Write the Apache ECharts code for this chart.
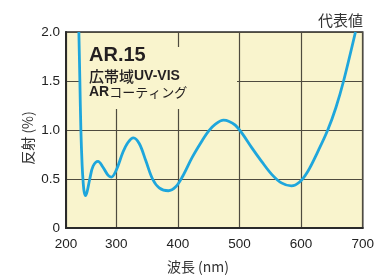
<!DOCTYPE html>
<html>
<head>
<meta charset="utf-8">
<script src="https://cdn.jsdelivr.net/npm/echarts@6/dist/echarts.min.js"></script>
<style>
html,body{margin:0;padding:0;background:#fff;}
#c{width:377px;height:278px;}
</style>
</head>
<body>
<div id="c"></div>
<script>
// Wavelength (nm) and reflectance (%)
const wavelengths = [225.6, 227.6, 229.6, 232.1, 234.1, 236.1, 238.9, 242.0, 247.3, 253.8, 263.7, 273.6, 283.4, 290.1, 300.0,
  310.6, 318.7, 327.8, 337.5, 348.3, 358.9, 369.7, 384.6, 396.5, 407.1, 423.2, 439.3, 450.1, 460.9, 474.2, 482.3, 493.1,
  503.7, 519.8, 535.8, 551.9, 568.0, 584.1, 597.6, 611.0, 627.1, 643.2, 656.5, 668.9, 688.2];
const reflectance = [2.00, 1.50, 1.00, 0.64, 0.47, 0.37, 0.33, 0.37, 0.50, 0.63, 0.68, 0.62, 0.54, 0.52, 0.59,
  0.77, 0.87, 0.92, 0.86, 0.68, 0.50, 0.41, 0.38, 0.42, 0.52, 0.72, 0.89, 0.99, 1.06, 1.10, 1.09, 1.05,
  0.97, 0.82, 0.68, 0.55, 0.46, 0.43, 0.47, 0.58, 0.78, 1.00, 1.23, 1.50, 2.00];
const xTickLabels = [200, 300, 400, 500, 600, 700];
const yTickLabels = ['0', '0.5', '1.0', '1.5', '2.0'];
const titleText = '代表値';
const xName = '波長 (nm)';
const yName = '反射 (%)';

// The reference axis compresses the 200–300 nm segment
const K = 0.8157;
function toAxis(w) { return w >= 300 ? w : 300 - (300 - w) * K; }
const xMin = toAxis(200);
const xTickPos = xTickLabels.map(toAxis);

const chart = echarts.init(document.getElementById('c'), null, {renderer: 'canvas'});
const gridCol = '#4f4b3f';
const bg = '#f9f4cd';
const latin = 'Liberation Sans, Arial, sans-serif';
const cjk = '"Noto Sans CJK JP", sans-serif';

chart.setOption({
  animation: false,
  grid: {left: 66, right: 13, top: 32, bottom: 50, show: true, backgroundColor: bg, borderColor: '#2a2a2a', borderWidth: 1.5},
  xAxis: {
    type: 'value', min: xMin, max: 700,
    axisLine: {show: true, lineStyle: {color: '#2a2a2a', width: 2}},
    axisTick: {show: false, customValues: xTickPos},
    splitLine: {show: true, lineStyle: {color: gridCol, width: 1.2}},
    axisLabel: {
      customValues: xTickPos, margin: 9, color: '#222', fontSize: 13.5, fontFamily: latin,
      formatter: function (v) {
        let best = 0;
        xTickPos.forEach(function (p, i) { if (Math.abs(p - v) < Math.abs(xTickPos[best] - v)) best = i; });
        return String(xTickLabels[best]);
      }
    }
  },
  yAxis: {
    type: 'value', min: 0, max: 2, interval: 0.5,
    axisLine: {show: true, lineStyle: {color: '#2a2a2a', width: 2}},
    axisTick: {show: false},
    splitLine: {show: true, lineStyle: {color: gridCol, width: 1.2}},
    axisLabel: {
      margin: 6, color: '#222', fontSize: 13.5, fontFamily: latin,
      formatter: function (v) { return yTickLabels[Math.round(v / 0.5)]; }
    }
  },
  graphic: [
    {type: 'rect', z: 1, shape: {x: 80, y: 47, width: 157, height: 62}, style: {fill: bg}},
    {type: 'rect', z: 1, shape: {x: 68, y: 33, width: 102, height: 15}, style: {fill: bg}},
    {type: 'text', z: 5, x: 89, y: 55, style: {text: 'AR.15', font: 'bold 20px "Liberation Sans Narrow", "Arial Narrow", Arial, sans-serif', fill: '#231f20', verticalAlign: 'middle', align: 'left'}},
    {type: 'text', z: 5, x: 89, y: 76, style: {
      text: '{a|広帯域}{b|UV-VIS}', verticalAlign: 'middle', align: 'left',
      rich: {a: {font: '500 15px ' + cjk, fill: '#231f20'}, b: {font: 'bold 14px ' + latin, fill: '#231f20'}}
    }},
    {type: 'text', z: 5, x: 89, y: 92, style: {
      text: '{b|AR}{a|コーティング}', verticalAlign: 'middle', align: 'left',
      rich: {a: {font: '400 13px ' + cjk, fill: '#231f20'}, b: {font: 'bold 14px ' + latin, fill: '#231f20'}}
    }},
    {type: 'text', z: 5, x: 363, y: 20, style: {text: titleText, font: '15px ' + cjk, fill: '#333', align: 'right', verticalAlign: 'middle'}},
    {type: 'text', z: 5, x: 198, y: 267, style: {text: xName, font: '14px ' + cjk, fill: '#333', align: 'center', verticalAlign: 'middle'}},
    {type: 'text', z: 5, x: 28, y: 138, rotation: Math.PI / 2, style: {text: yName, font: '14px ' + cjk, fill: '#333', align: 'center', verticalAlign: 'middle'}}
  ],
  series: [{
    type: 'line', z: 3, smooth: 0.35, symbol: 'none', clip: true,
    lineStyle: {color: '#1ea6dc', width: 2.8},
    data: wavelengths.map(function (w, i) { return [toAxis(w), reflectance[i]]; })
  }]
});
</script>
</body>
</html>
